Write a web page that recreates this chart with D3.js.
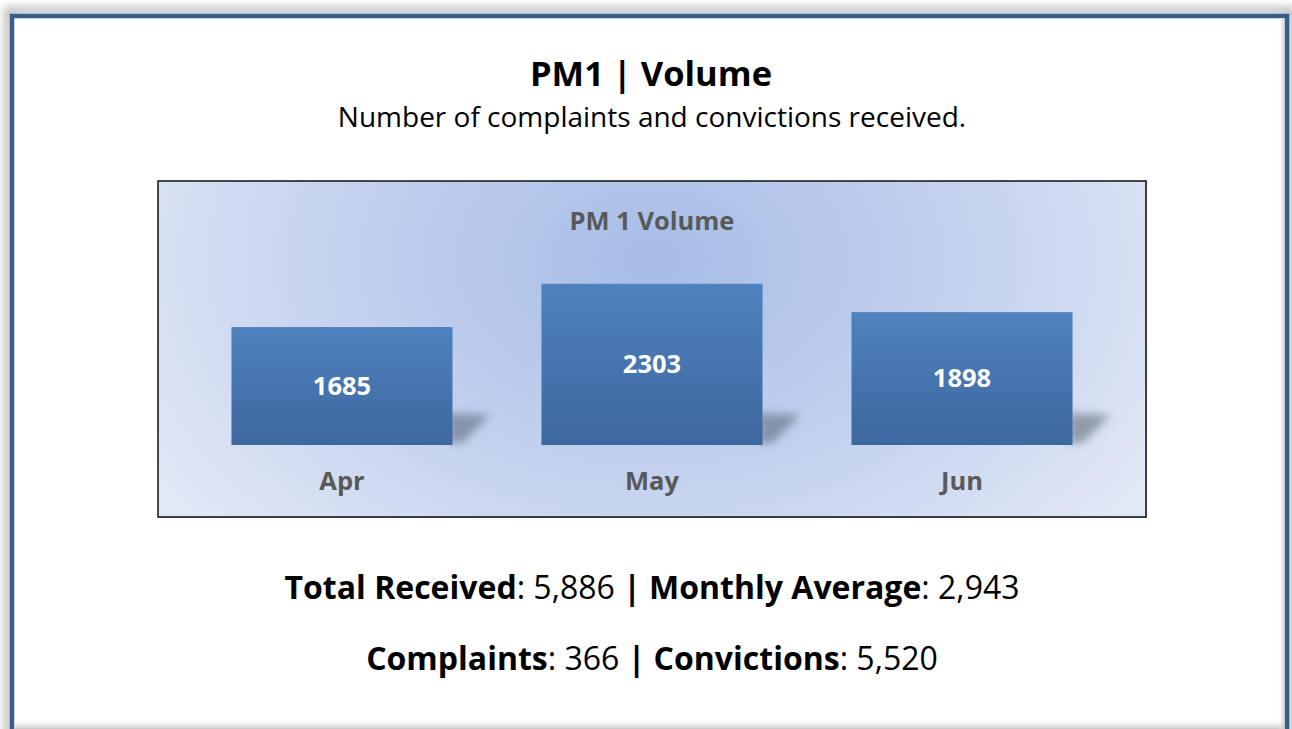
<!DOCTYPE html>
<html>
<head>
<meta charset="utf-8">
<script src="https://cdn.jsdelivr.net/npm/d3@7"></script>
<style>
  html, body { margin: 0; padding: 0; background: #ffffff; }
  #diagram { width: 1292px; height: 729px; overflow: hidden; }
  text { font-family: 'Open Sans', 'Noto Sans', sans-serif; }
</style>
</head>
<body>
<div id="diagram"></div>
<script>
!(function () {
  'use strict';
  // - - - - - - - - - -
  // data
  const months = ['Apr', 'May', 'Jun'];
  const volumes = [1685, 2303, 1898];
  const summaryTotals = [['Total Received', '5,886'], ['Monthly Average', '2,943']];
  const summarySplit = [['Complaints', '366'], ['Convictions', '5,520']];

  let
    svg = undefined,
    defs = undefined,
    xScale = undefined,
    yScale = undefined,
    plot = undefined,
    canvas = {
      width: 1292,
      height: 729,
      frame: { x: 12, y: 16, width: 1275, height: 740 },
      box: { x: 158, y: 181, width: 988, height: 336 },
      bars: { top: 235, bottom: 445 }
    };

  svg = d3.select('#diagram')
    .append('svg')
    .attr('width', canvas.width)
    .attr('height', canvas.height);

  defs = svg.append('defs');

  // gradients + filters
  let bg = defs.append('radialGradient')
    .attr('id', 'boxBg')
    .attr('gradientUnits', 'userSpaceOnUse')
    .attr('cx', 652).attr('cy', 260).attr('r', 580)
    .attr('gradientTransform', 'translate(652,260) scale(1,0.7) translate(-652,-260)');
  bg.append('stop').attr('offset', '0%').attr('stop-color', '#a6bce6');
  bg.append('stop').attr('offset', '50%').attr('stop-color', '#c2d0ee');
  bg.append('stop').attr('offset', '100%').attr('stop-color', '#e0e7f5');

  let barGrad = defs.append('linearGradient')
    .attr('id', 'barGrad')
    .attr('x1', 0).attr('y1', 0).attr('x2', 0).attr('y2', 1);
  barGrad.append('stop').attr('offset', '0%').attr('stop-color', '#4f82bf');
  barGrad.append('stop').attr('offset', '100%').attr('stop-color', '#3d679f');

  defs.append('filter').attr('id', 'blur4')
    .attr('x', '-50%').attr('y', '-50%').attr('width', '200%').attr('height', '200%')
    .append('feGaussianBlur').attr('stdDeviation', 4);

  defs.append('filter').attr('id', 'frameShadow')
    .attr('x', '-5%').attr('y', '-5%').attr('width', '110%').attr('height', '110%')
    .append('feGaussianBlur').attr('stdDeviation', 4);

  // outer frame with shadow
  svg.append('rect')
    .attr('x', canvas.frame.x - 4).attr('y', canvas.frame.y - 5)
    .attr('width', canvas.frame.width + 8).attr('height', canvas.frame.height)
    .attr('fill', 'none')
    .attr('stroke', '#b4b4b4')
    .attr('stroke-width', 7)
    .attr('filter', 'url(#frameShadow)');

  svg.append('rect')
    .attr('x', canvas.frame.x).attr('y', canvas.frame.y)
    .attr('width', canvas.frame.width).attr('height', canvas.frame.height)
    .attr('fill', '#ffffff')
    .attr('stroke', '#385d8a')
    .attr('stroke-width', 4.5);

  // inner shades (bottom, right)
  let shade = defs.append('linearGradient')
    .attr('id', 'shade').attr('x1', 0).attr('y1', 0).attr('x2', 0).attr('y2', 1);
  shade.append('stop').attr('offset', '0%').attr('stop-color', '#ffffff').attr('stop-opacity', 0);
  shade.append('stop').attr('offset', '100%').attr('stop-color', '#c8c8c8').attr('stop-opacity', 1);
  svg.append('rect')
    .attr('x', canvas.frame.x + 2.5).attr('y', 718)
    .attr('width', canvas.frame.width - 5).attr('height', 11)
    .attr('fill', 'url(#shade)');

  let shadeR = defs.append('linearGradient')
    .attr('id', 'shadeR').attr('x1', 0).attr('y1', 0).attr('x2', 1).attr('y2', 0);
  shadeR.append('stop').attr('offset', '0%').attr('stop-color', '#ffffff').attr('stop-opacity', 0);
  shadeR.append('stop').attr('offset', '100%').attr('stop-color', '#c4c4c4').attr('stop-opacity', 1);
  svg.append('rect')
    .attr('x', canvas.frame.x + canvas.frame.width - 9).attr('y', canvas.frame.y + 3)
    .attr('width', 7).attr('height', canvas.height)
    .attr('fill', 'url(#shadeR)');

  // heading
  svg.append('text')
    .attr('x', 651).attr('y', 86)
    .attr('text-anchor', 'middle')
    .attr('font-size', 34.5).attr('font-weight', 'bold')
    .attr('fill', '#000')
    .text('PM1 | Volume');

  svg.append('text')
    .attr('x', 652).attr('y', 127)
    .attr('text-anchor', 'middle')
    .attr('font-size', 28)
    .attr('fill', '#000')
    .text('Number of complaints and convictions received.');

  // chart box
  svg.append('rect')
    .attr('x', canvas.box.x + 1).attr('y', canvas.box.y + 1)
    .attr('width', canvas.box.width).attr('height', canvas.box.height)
    .attr('fill', '#7a7a7a')
    .attr('opacity', 0.6);
  svg.append('rect')
    .attr('x', canvas.box.x).attr('y', canvas.box.y)
    .attr('width', canvas.box.width).attr('height', canvas.box.height)
    .attr('fill', 'url(#boxBg)')
    .attr('stroke', '#111')
    .attr('stroke-width', 1.5);

  svg.append('text')
    .attr('x', 652).attr('y', 230)
    .attr('text-anchor', 'middle')
    .attr('font-size', 25.5).attr('font-weight', 'bold')
    .attr('fill', '#595959')
    .text('PM 1 Volume');

  // scales
  xScale = d3.scaleBand()
    .domain(months)
    .range([canvas.box.x, canvas.box.x + canvas.box.width])
    .paddingInner(0.287)
    .paddingOuter(0.237);

  yScale = d3.scaleLinear()
    .domain([0, 3000])
    .range([canvas.bars.bottom, canvas.bars.top]);

  plot = svg.append('g');

  let rows = months.map(function (m, i) { return { month: m, value: volumes[i] }; });

  // shadows
  plot.selectAll('polygon.shadow')
    .data(rows)
    .enter()
    .append('polygon')
    .attr('class', 'shadow')
    .attr('points', function (d) {
      let x1 = xScale(d.month) + xScale.bandwidth(),
        y0 = yScale(0);
      return [[x1 - 4, y0 - 32], [x1 + 38, y0 - 30], [x1 + 10, y0 - 2], [x1 - 4, y0 - 2]].join(' ');
    })
    .attr('fill', '#4c5668')
    .attr('opacity', 0.5)
    .attr('filter', 'url(#blur4)');

  plot.selectAll('rect.bar')
    .data(rows)
    .enter()
    .append('rect')
    .attr('class', 'bar')
    .attr('x', function (d) { return xScale(d.month); })
    .attr('y', function (d) { return yScale(d.value); })
    .attr('width', xScale.bandwidth())
    .attr('height', function (d) { return yScale(0) - yScale(d.value); })
    .attr('fill', 'url(#barGrad)');

  plot.selectAll('text.value')
    .data(rows)
    .enter()
    .append('text')
    .attr('class', 'value')
    .attr('x', function (d) { return xScale(d.month) + xScale.bandwidth() / 2; })
    .attr('y', function (d) { return (yScale(d.value) + yScale(0)) / 2; })
    .attr('dy', '0.35em')
    .attr('text-anchor', 'middle')
    .attr('font-size', 25.5).attr('font-weight', 'bold')
    .attr('fill', '#ffffff')
    .text(function (d) { return d.value; });

  // x axis (labels only)
  let xAxis = svg.append('g')
    .attr('transform', 'translate(0, ' + canvas.bars.bottom + ')')
    .call(d3.axisBottom(xScale).tickSize(0).tickPadding(27));
  xAxis.select('.domain').remove();
  xAxis.selectAll('text')
    .attr('font-family', "'Open Sans', 'Noto Sans', sans-serif")
    .attr('font-size', 25.5).attr('font-weight', 'bold')
    .attr('fill', '#595959');

  // summary lines
  let summary = function (pairs, y) {
    let t = svg.append('text')
      .attr('x', 652).attr('y', y)
      .attr('text-anchor', 'middle')
      .attr('font-size', 32)
      .attr('fill', '#000');
    pairs.forEach(function (p, i) {
      if (i > 0) { t.append('tspan').attr('font-weight', 'bold').text(' | '); }
      t.append('tspan').attr('font-weight', 'bold').text(p[0]);
      t.append('tspan').text(': ' + p[1]);
    });
  };
  summary(summaryTotals, 599);
  summary(summarySplit, 670);
  // - - - - - - - - - -
}());
</script>
</body>
</html>
